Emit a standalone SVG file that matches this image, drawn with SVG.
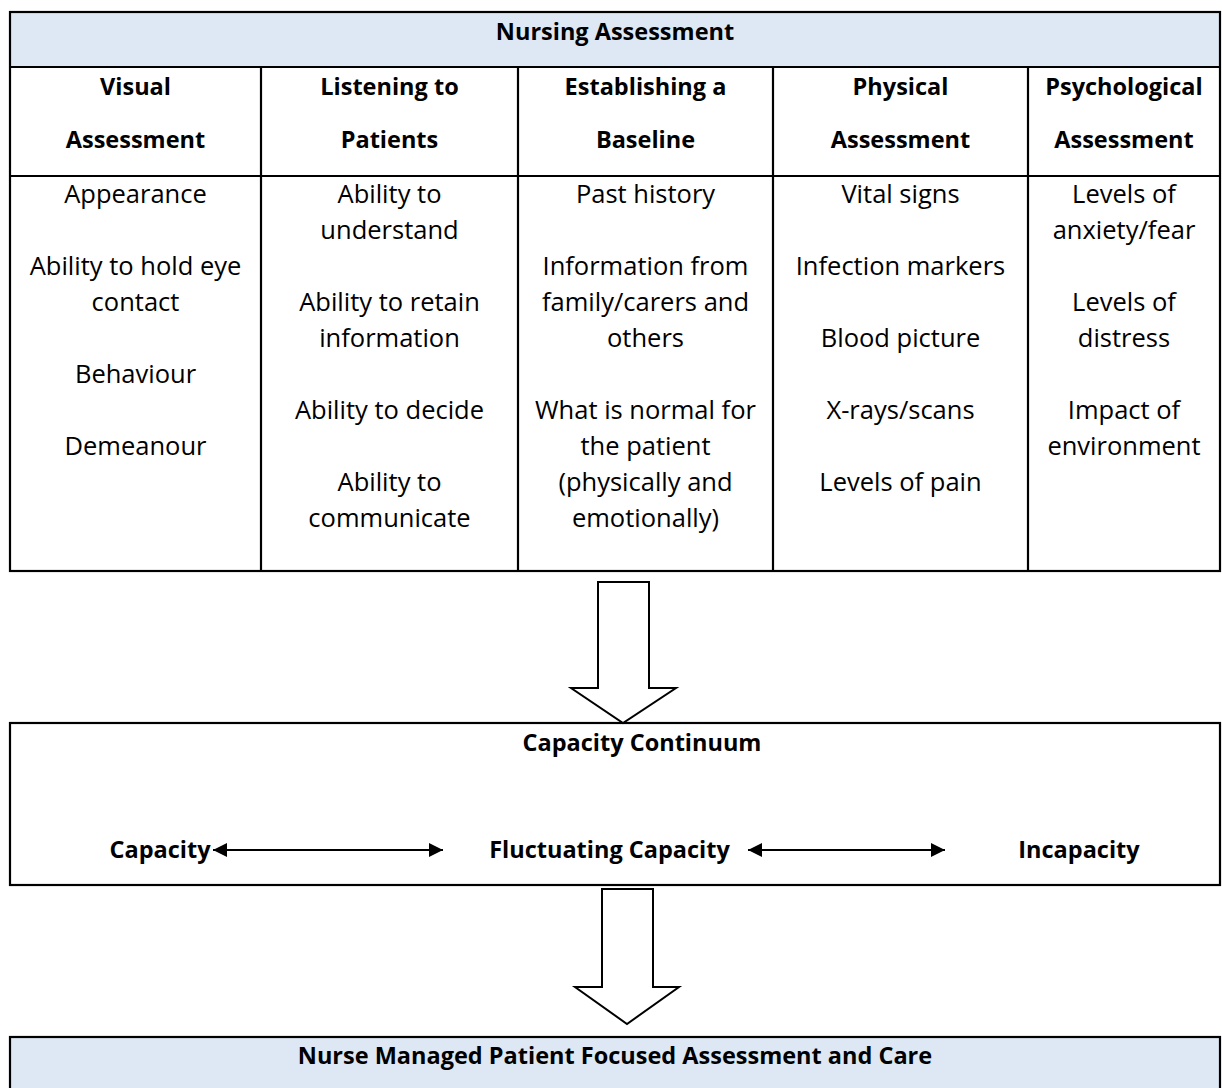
<svg xmlns="http://www.w3.org/2000/svg" width="1222" height="1088" viewBox="0 0 1222 1088">
  <style>
    .frame { fill: none; stroke: #000; stroke-width: 2.2; }
    .band { fill: #dde8f4; }
    .rule { stroke: #000; stroke-width: 2.2; }
    .hd { font-family: "Open Sans", "Liberation Sans", sans-serif; font-weight: bold; font-size: 23.5px; fill: #000; text-anchor: middle; }
    .tx { font-family: "Open Sans", "Liberation Sans", sans-serif; font-size: 25.5px; fill: #000; text-anchor: middle; }
    .block { fill: #fff; stroke: #000; stroke-width: 2; stroke-linejoin: miter; }
    .link { stroke: #000; stroke-width: 2; fill: none; }
  </style>
  <defs>
    <marker id="tip" viewBox="0 0 10 10" refX="10" refY="5" markerWidth="9" markerHeight="7" markerUnits="strokeWidth" orient="auto-start-reverse">
      <path d="M0,0 L10,5 L0,10 Z" fill="#000"/>
    </marker>
  </defs>

  <rect width="1222" height="1088" fill="#fff"/>

  <!-- Nursing assessment table -->
  <g id="nursing-assessment">
    <rect class="band" x="10" y="12" width="1210" height="55"/>
    <rect class="frame" x="10" y="12" width="1210" height="559"/>
    <line class="rule" x1="10" y1="67" x2="1220" y2="67"/>
    <line class="rule" x1="10" y1="176" x2="1220" y2="176"/>
    <line class="rule" x1="261" y1="67" x2="261" y2="571"/>
    <line class="rule" x1="518" y1="67" x2="518" y2="571"/>
    <line class="rule" x1="773" y1="67" x2="773" y2="571"/>
    <line class="rule" x1="1028" y1="67" x2="1028" y2="571"/>
    <text class="hd" x="615" y="40">Nursing Assessment</text>
  </g>

  <g id="col-visual">
    <text class="hd" x="135.5" y="95">Visual</text>
    <text class="hd" x="135.5" y="148">Assessment</text>
    <text class="tx" x="135.5" y="203">Appearance</text>
    <text class="tx" x="135.5" y="275">Ability to hold eye</text>
    <text class="tx" x="135.5" y="311">contact</text>
    <text class="tx" x="135.5" y="383">Behaviour</text>
    <text class="tx" x="135.5" y="455">Demeanour</text>
  </g>

  <g id="col-listening">
    <text class="hd" x="389.5" y="95">Listening to</text>
    <text class="hd" x="389.5" y="148">Patients</text>
    <text class="tx" x="389.5" y="203">Ability to</text>
    <text class="tx" x="389.5" y="239">understand</text>
    <text class="tx" x="389.5" y="311">Ability to retain</text>
    <text class="tx" x="389.5" y="347">information</text>
    <text class="tx" x="389.5" y="419">Ability to decide</text>
    <text class="tx" x="389.5" y="491">Ability to</text>
    <text class="tx" x="389.5" y="527">communicate</text>
  </g>

  <g id="col-baseline">
    <text class="hd" x="645.5" y="95">Establishing a</text>
    <text class="hd" x="645.5" y="148">Baseline</text>
    <text class="tx" x="645.5" y="203">Past history</text>
    <text class="tx" x="645.5" y="275">Information from</text>
    <text class="tx" x="645.5" y="311">family/carers and</text>
    <text class="tx" x="645.5" y="347">others</text>
    <text class="tx" x="645.5" y="419">What is normal for</text>
    <text class="tx" x="645.5" y="455">the patient</text>
    <text class="tx" x="645.5" y="491">(physically and</text>
    <text class="tx" x="645.5" y="527">emotionally)</text>
  </g>

  <g id="col-physical">
    <text class="hd" x="900.5" y="95">Physical</text>
    <text class="hd" x="900.5" y="148">Assessment</text>
    <text class="tx" x="900.5" y="203">Vital signs</text>
    <text class="tx" x="900.5" y="275">Infection markers</text>
    <text class="tx" x="900.5" y="347">Blood picture</text>
    <text class="tx" x="900.5" y="419">X-rays/scans</text>
    <text class="tx" x="900.5" y="491">Levels of pain</text>
  </g>

  <g id="col-psychological">
    <text class="hd" x="1124" y="95">Psychological</text>
    <text class="hd" x="1124" y="148">Assessment</text>
    <text class="tx" x="1124" y="203">Levels of</text>
    <text class="tx" x="1124" y="239">anxiety/fear</text>
    <text class="tx" x="1124" y="311">Levels of</text>
    <text class="tx" x="1124" y="347">distress</text>
    <text class="tx" x="1124" y="419">Impact of</text>
    <text class="tx" x="1124" y="455">environment</text>
  </g>

  <!-- Capacity continuum box -->
  <g id="capacity-continuum">
    <rect class="frame" x="10" y="723" width="1210" height="162"/>
    <text class="hd" x="642" y="751">Capacity Continuum</text>
    <text class="hd" x="160" y="858">Capacity</text>
    <text class="hd" x="609.5" y="858">Fluctuating Capacity</text>
    <text class="hd" x="1079" y="858">Incapacity</text>
  </g>

  <!-- Care box -->
  <g id="patient-care">
    <rect class="band" x="10" y="1037" width="1210" height="60"/>
    <rect class="frame" x="10" y="1037" width="1210" height="60"/>
    <text class="hd" x="615" y="1064">Nurse Managed Patient Focused Assessment and Care</text>
  </g>

  <!-- Connectors -->
  <g id="connectors">
    <path class="block" d="M598,582 H649 V688 H676 L623,723 L571,688 H598 Z"/>
    <path class="block" d="M602,889 H653 V987 H679 L627,1024 L575,987 H602 Z"/>
    <line class="link" x1="213" y1="850" x2="443" y2="850" marker-start="url(#tip)" marker-end="url(#tip)"/>
    <line class="link" x1="748" y1="850" x2="945" y2="850" marker-start="url(#tip)" marker-end="url(#tip)"/>
  </g>
</svg>
